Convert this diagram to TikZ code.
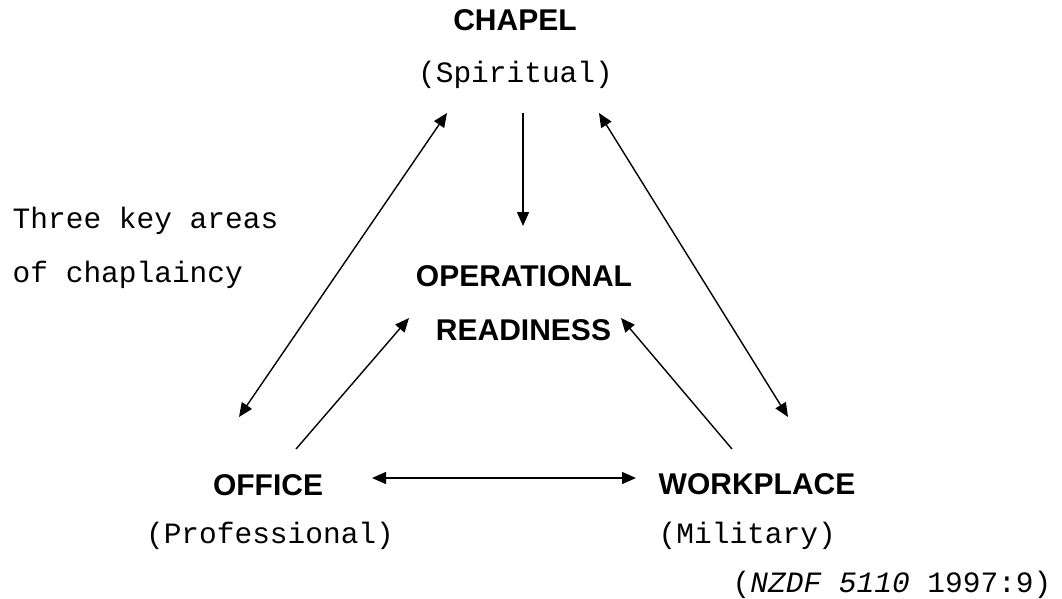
\documentclass[tikz,border=0pt]{standalone}
\usepackage{fontspec}
\setmainfont{Liberation Sans}
\setmonofont{Liberation Mono}
\usetikzlibrary{arrows.meta}

\begin{document}
\begin{tikzpicture}[x=1pt,y=-1pt,line width=1.4pt,
    >={Triangle[length=14pt,width=12pt]},
    area/.style={font=\fontsize{30}{36}\selectfont\bfseries, inner sep=0pt, anchor=base},
    role/.style={font=\fontsize{29.5}{36}\selectfont\ttfamily, inner sep=0pt, anchor=base}]
          \useasboundingbox (0,0) rectangle (1062,598);

          % the three areas and the centre
          \node[area] (chapel) at (515,30) {CHAPEL};
          \node[role] (spirit) at (515.5,82) {(Spiritual)};
          \node[area] (oper) at (524,286) {OPERATIONAL};
          \node[area] (ready) at (523.5,340) {READINESS};
          \node[area] (office) at (268,495) {OFFICE};
          \node[role] (prof) at (270,543) {(Professional)};
          \node[area,anchor=base west] (work) at (658,494) {WORKPLACE};
          \node[role,anchor=base west] (mil) at (658,543) {(Military)};

          \node[role,anchor=base west] (key1) at (12,228) {Three key areas};
          \node[role,anchor=base west] (key2) at (12,282) {of chaplaincy};
          \node[role,anchor=base west] (src) at (732,592) {(\textit{NZDF 5110} 1997:9)};

          % ends of the arrows
          \coordinate (c1) at (523,113);
          \coordinate (c2) at (523,226);
          \coordinate (cl) at (447,113);
          \coordinate (ol) at (239,417);
          \coordinate (cr) at (599,113);
          \coordinate (wr) at (788,417);
          \coordinate (o1) at (296,449);
          \coordinate (r1) at (409,318);
          \coordinate (w1) at (732,449);
          \coordinate (r2) at (621,318);
          \coordinate (o2) at (372,478);
          \coordinate (w2) at (636,478);

          \path
            (c1) edge[->] (c2)
            (cl) edge[<->] (ol)
            (cr) edge[<->] (wr)
            (o1) edge[->] (r1)
            (w1) edge[->] (r2)
            (o2) edge[<->] (w2);

\end{tikzpicture}
\end{document}
